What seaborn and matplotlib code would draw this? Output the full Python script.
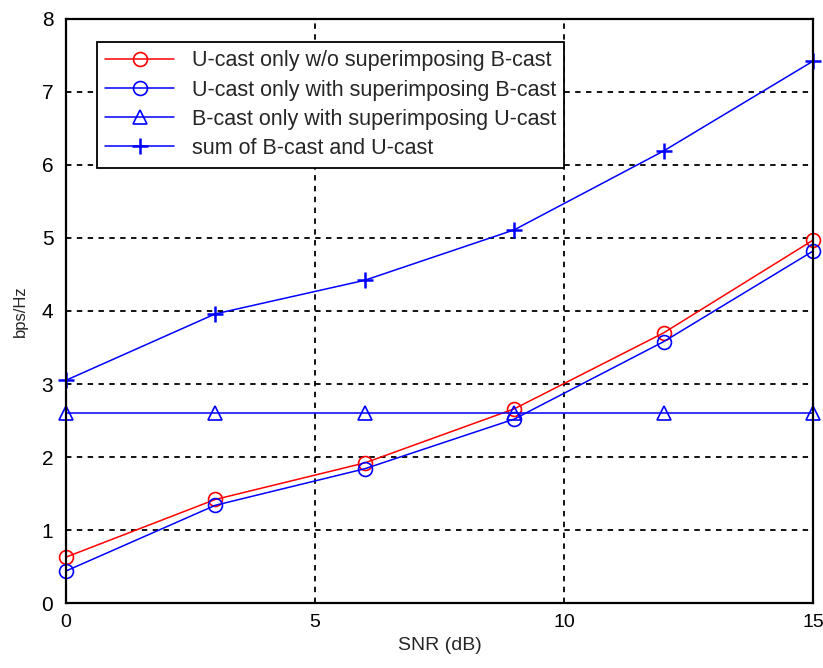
import matplotlib
matplotlib.use("Agg")
from matplotlib import pyplot as plt
import pandas as pd
import seaborn as sns

# data
snr = [0, 3, 6, 9, 12, 15]
ucast_wo = [0.63, 1.42, 1.92, 2.66, 3.70, 4.97]
ucast_with = [0.44, 1.34, 1.84, 2.52, 3.58, 4.82]
bcast_with = [2.60, 2.60, 2.60, 2.60, 2.60, 2.60]
sum_bu = [3.05, 3.96, 4.42, 5.11, 6.19, 7.42]

labels = ['U-cast only w/o superimposing B-cast',
          'U-cast only with superimposing B-cast',
          'B-cast only with superimposing U-cast',
          'sum of B-cast and U-cast']

df = pd.DataFrame({'SNR': snr * 4,
                   'val': ucast_wo + ucast_with + bcast_with + sum_bu,
                   'series': [l for l in labels for _ in snr]})

sns.set_style('white')
plt.rcParams['font.family'] = ['Liberation Sans', 'DejaVu Sans']

fig = plt.figure(figsize=(8.23, 6.68), dpi=100)
ax = fig.add_axes([0.080, 0.097, 0.908, 0.875])

colors = ['red', 'blue', 'blue', 'blue']
markers = ['o', 'o', '^', '+']
for lab, c, m in zip(labels, colors, markers):
    sub = df[df['series'] == lab]
    mk = dict(markerfacecolor='none', markeredgecolor=c, markersize=10, markeredgewidth=1.2)
    if m == '+':
        mk = dict(markersize=12, markeredgewidth=1.8, markeredgecolor=c)
    sns.lineplot(data=sub, x='SNR', y='val', ax=ax, color=c, marker=m, label=lab,
                 linewidth=1.1, clip_on=False, **mk)

ax.set_xlim(0, 15)
ax.set_ylim(0, 8)
ax.set_xticks([0, 5, 10, 15])
ax.set_yticks(range(0, 9))
ax.grid(True, color='black', linestyle=(0, (3, 3)), linewidth=1.3)
for s in ax.spines.values():
    s.set_color('black')
    s.set_linewidth(1.6)
ax.tick_params(direction='in', length=6, width=1.2, labelsize=15, colors='black')
ax.tick_params(axis='y', pad=9)
ax.tick_params(axis='x', pad=8, labelsize=14)
ax.set_xlabel('SNR (dB)', fontsize=14, labelpad=4)
ax.set_ylabel('bps/Hz', fontsize=12, labelpad=10)

leg = ax.legend(loc='upper left', bbox_to_anchor=(0.027, 0.979), fontsize=15.5,
                frameon=True, fancybox=False, framealpha=1, edgecolor='black',
                handlelength=3.2, borderpad=0.4, labelspacing=0.38)
leg.get_frame().set_linewidth(1.3)

fig.savefig('out.png', dpi=100)
